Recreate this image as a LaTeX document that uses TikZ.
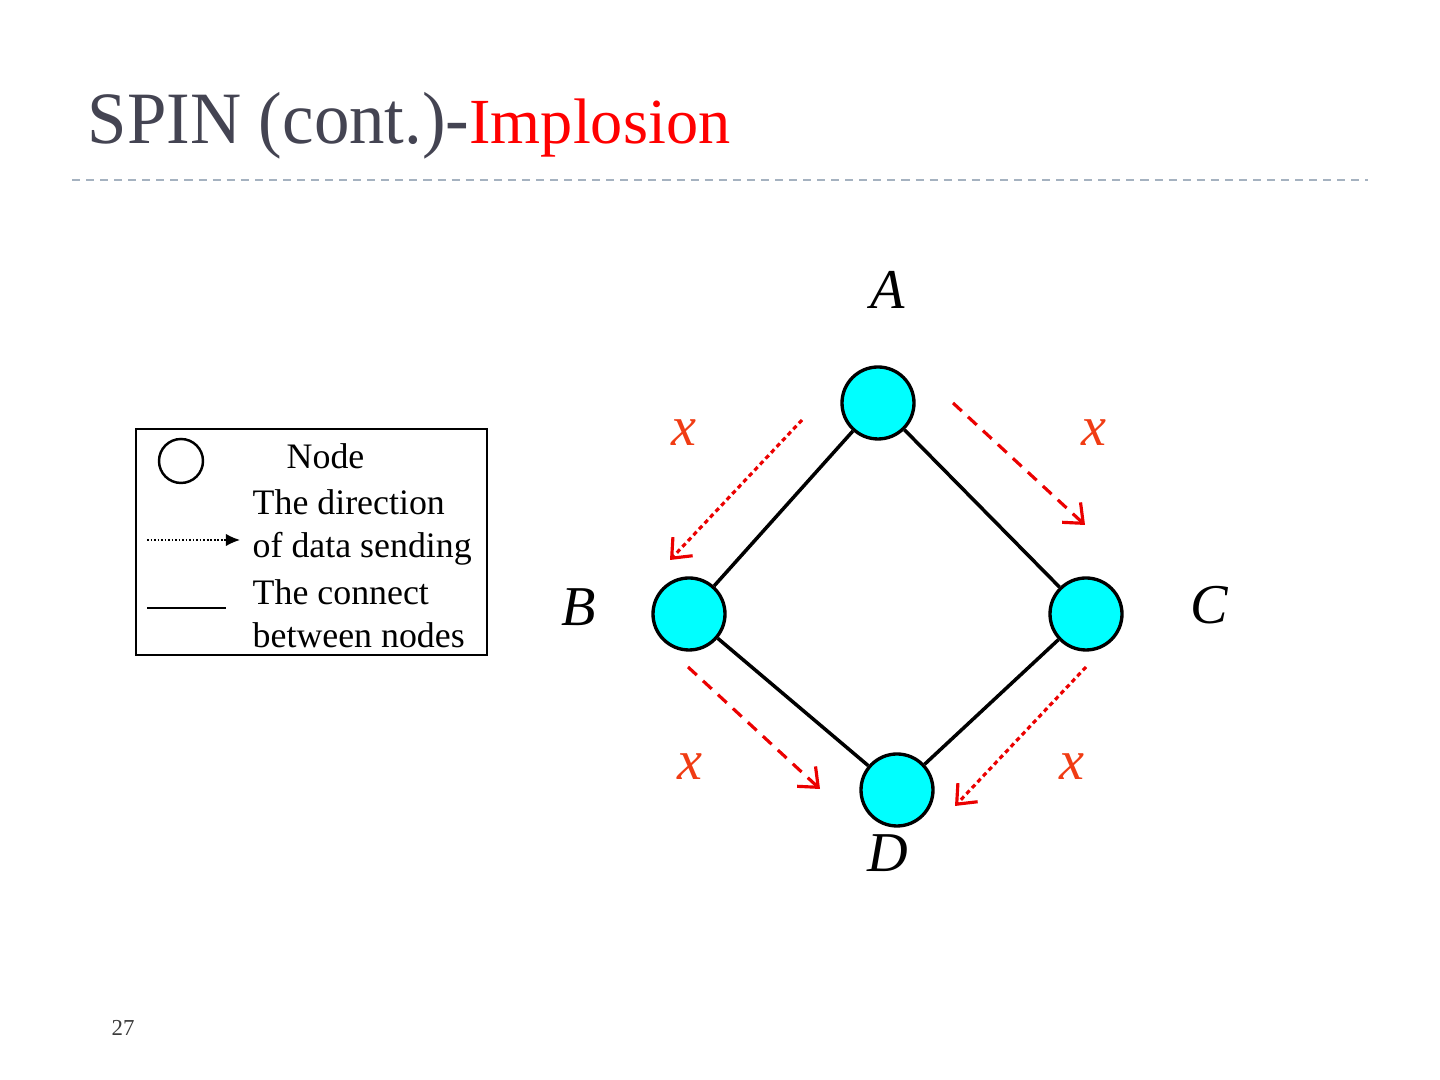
\documentclass[tikz,border=0pt]{standalone}
\usepackage{fontspec}
\setmainfont{Liberation Serif}
\usepackage{xcolor}
\usepackage{tikz}
\usetikzlibrary{arrows.meta,positioning,calc}
\definecolor{titlegray}{RGB}{68,68,82}
\definecolor{ruleclr}{RGB}{165,178,192}
\definecolor{nodeclr}{RGB}{0,255,255}
\definecolor{xclr}{RGB}{240,60,20}
\definecolor{sendclr}{RGB}{235,0,0}
\definecolor{pageclr}{RGB}{60,60,60}

\begin{document}
\begin{tikzpicture}[
  sensor/.style={circle, draw=black, line width=0.95pt, fill=nodeclr, inner sep=0pt, minimum size=0.72cm},
  link/.style={black, line width=1pt},
  sendshort/.style={sendclr, line width=0.9pt, dash pattern=on 1.3pt off 1.0pt, -{Straight Barb[angle=80:6pt]}},
  sendlong/.style={sendclr, line width=0.9pt, dash pattern=on 3.4pt off 2.4pt, -{Straight Barb[angle=80:6pt]}},
  letter/.style={font=\fontsize{16}{19}\selectfont\itshape},
  datax/.style={font=\fontsize{16}{19}\selectfont\itshape, text=xclr},
  legtext/.style={font=\fontsize{10.2}{12}\selectfont, anchor=base west, inner sep=0pt}
]
\useasboundingbox (0,0) rectangle (14.4,10.8);

% Title and dashed rule
\node[anchor=base west, inner sep=0pt] (title) at (0.87, 9.36)
  {\scalebox{0.96}[1]{\fontsize{21}{25}\selectfont\color{titlegray}SPIN (cont.)-}{\fontsize{18.3}{22}\selectfont\color{red}Implosion}};
\draw[ruleclr, line width=0.6pt, dash pattern=on 2.3pt off 1.7pt] (0.72, 9.00) -- (13.68, 9.00);

% Sensor nodes
\node[sensor] (A) at (8.78, 6.77) {};
\node[sensor] (B) at (6.89, 4.66) {};
\node[sensor] (C) at (10.86, 4.66) {};
\node[sensor] (D) at (8.97, 2.90) {};

% Connections
\draw[link] (A) -- (B);
\draw[link] (A) -- (C);
\draw[link] (B) -- (D);
\draw[link] (C) -- (D);

% Node names
\node[letter] (lA) at (8.88, 7.90) {A};
\node[letter] (lB) at (5.79, 4.73) {B};
\node[letter] (lC) at (12.09, 4.75) {C};
\node[letter] (lD) at (8.88, 2.27) {D};

% Data x
\node[datax] (x1) at (6.84, 6.47) {x};
\node[datax] (x2) at (10.94, 6.47) {x};
\node[datax] (x3) at (6.90, 3.13) {x};
\node[datax] (x4) at (10.72, 3.13) {x};

% Sending directions
\coordinate (s1) at (8.02, 6.60);  \coordinate (e1) at (6.70, 5.20);
\coordinate (s2) at (9.53, 6.77);  \coordinate (e2) at (10.85, 5.55);
\coordinate (s3) at (6.88, 4.13);  \coordinate (e3) at (8.20, 2.91);
\coordinate (s4) at (10.86, 4.13); \coordinate (e4) at (9.55, 2.74);
\draw[sendshort] (s1) -- (e1);
\draw[sendlong]  (s2) -- (e2);
\draw[sendlong]  (s3) -- (e3);
\draw[sendshort] (s4) -- (e4);

% Legend
\node[draw=black, line width=0.6pt, minimum width=3.51cm, minimum height=2.26cm, anchor=north west, inner sep=0pt] (legend) at (1.35, 6.52) {};
\node[circle, draw=black, line width=0.7pt, minimum size=0.44cm, inner sep=0pt] (legnode) at (1.81, 6.19) {};
\node[legtext] (tnode) at (2.86, 6.11) {Node};
\node[legtext] (tdir1) at (2.52, 5.65) {The direction};
\node[legtext] (tdir2) at (2.52, 5.22) {of data sending};
\node[legtext] (tcon1) at (2.52, 4.75) {The connect};
\node[legtext] (tcon2) at (2.52, 4.32) {between nodes};
\coordinate (ds) at (1.47, 5.40); \coordinate (de) at (2.40, 5.40);
\draw[black, line width=0.4pt, dash pattern=on 0.5pt off 0.5pt, -{Latex[length=4pt, width=3.5pt]}] (ds) -- (de);
\coordinate (cs) at (1.47, 4.72); \coordinate (ce) at (2.26, 4.72);
\draw[black, line width=0.8pt] (cs) -- (ce);

% Page number
\node[font=\fontsize{6.5}{8}\selectfont, text=pageclr] (page) at (1.23, 0.52) {27};

\end{tikzpicture}
\end{document}
